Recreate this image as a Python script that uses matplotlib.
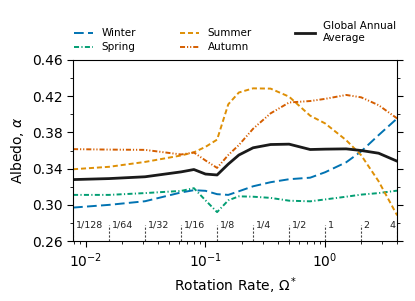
import matplotlib
matplotlib.use("Agg")
import matplotlib.pyplot as plt
from matplotlib.ticker import FixedLocator, MultipleLocator, LogLocator, NullFormatter

rot = [1/128, 1/64, 1/32, 1/16, 0.08, 0.1, 0.125, 0.155, 0.19, 0.25,
       0.35, 0.5, 0.75, 1.0, 1.5, 2.0, 2.8, 4.0]

winter = [0.297, 0.300, 0.304, 0.3137, 0.3162, 0.3155, 0.3118, 0.311, 0.315, 0.3205,
          0.325, 0.3283, 0.330, 0.336, 0.347, 0.359, 0.377, 0.3954]
spring = [0.311, 0.311, 0.313, 0.3154, 0.3184, 0.305, 0.292, 0.305, 0.3094, 0.309,
          0.3077, 0.3046, 0.3039, 0.306, 0.309, 0.3113, 0.313, 0.3157]
summer = [0.3393, 0.342, 0.3474, 0.3545, 0.358, 0.364, 0.372, 0.411, 0.424, 0.4286,
          0.4283, 0.4194, 0.3984, 0.3899, 0.3714, 0.3548, 0.326, 0.2884]
autumn = [0.3615, 0.361, 0.3607, 0.3556, 0.3578, 0.349, 0.3408, 0.355, 0.366, 0.384,
          0.401, 0.413, 0.4146, 0.417, 0.4213, 0.4187, 0.410, 0.3954]
annual = [0.3279, 0.329, 0.331, 0.3364, 0.339, 0.334, 0.333, 0.345, 0.355, 0.363,
          0.3666, 0.367, 0.3611, 0.3615, 0.3618, 0.360, 0.357, 0.3482]

marks = [1/128, 1/64, 1/32, 1/16, 1/8, 1/4, 1/2, 1, 2, 4]
mark_labels = ["1/128", "1/64", "1/32", "1/16", "1/8", "1/4", "1/2", "1", "2", "4"]
yticks = [0.26, 0.30, 0.34, 0.38, 0.42, 0.46]

fig = plt.figure(figsize=(4.15, 3.01), dpi=100)
ax = fig.add_axes([0.176, 0.199, 0.781, 0.602])

ax.plot(rot, winter, color="#0173b2", ls=(0, (5, 2.2)), lw=1.4, label="Winter")
ax.plot(rot, spring, color="#029e73", ls=(0, (2.6, 1.2, 0.6, 1.2)), lw=1.4, label="Spring")
ax.plot(rot, summer, color="#de8f05", ls=(0, (2.6, 1.5)), lw=1.4, label="Summer")
ax.plot(rot, autumn, color="#d55e00", ls=(0, (2.6, 1, 0.6, 1, 0.6, 1)), lw=1.4, label="Autumn")
ax.plot(rot, annual, color="#1a1a1a", lw=2.0, label="Global Annual\nAverage")

for m, lab in zip(marks, mark_labels):
    ax.plot([m, m], [0.26, 0.278], color="#444444", ls=(0, (2, 1.5)), lw=0.8)
    if lab == "4":
        ax.text(m / 1.03, 0.2775, lab, fontsize=6.8, ha="right", va="center", color="#222222")
    else:
        ax.text(m * 1.05, 0.2775, lab, fontsize=6.8, ha="left", va="center", color="#222222")

ax.set_xscale("log")
ax.set_xlim(1/128, 4)
ax.set_ylim(0.26, 0.46)
ax.yaxis.set_major_locator(FixedLocator(yticks))
ax.yaxis.set_minor_locator(MultipleLocator(0.02))
ax.yaxis.set_major_formatter(plt.FormatStrFormatter("%.2f"))
ax.xaxis.set_minor_locator(LogLocator(base=10, subs=range(2, 10)))
ax.xaxis.set_minor_formatter(NullFormatter())
ax.tick_params(axis="both", which="both", direction="out", right=True, top=False)
ax.tick_params(axis="both", which="major", labelsize=10, length=4)
ax.tick_params(axis="both", which="minor", length=2.5)

ax.set_xlabel(r"Rotation Rate, $\Omega^*$", fontsize=10)
ax.set_ylabel(r"Albedo, $\alpha$", fontsize=10)

ax.legend(loc="lower center", bbox_to_anchor=(0.5, 0.99), ncol=3, frameon=False,
          fontsize=7.5, columnspacing=4.2, handlelength=1.85, labelspacing=0.4)

fig.savefig("out.png", dpi=100)
